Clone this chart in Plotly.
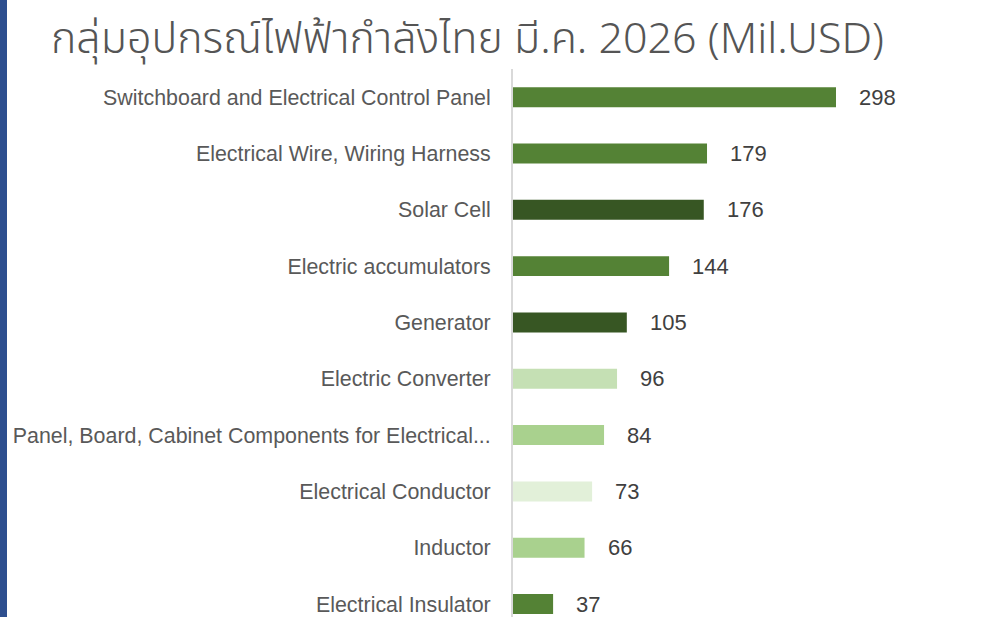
import plotly.graph_objects as go

categories = [
    "Switchboard and Electrical Control Panel",
    "Electrical Wire, Wiring Harness",
    "Solar Cell",
    "Electric accumulators",
    "Generator",
    "Electric Converter",
    "Panel, Board, Cabinet Components for Electrical...",
    "Electrical Conductor",
    "Inductor",
    "Electrical Insulator",
]
values = [298, 179, 176, 144, 105, 96, 84, 73, 66, 37]
colors = ["#548235", "#548235", "#375623", "#548235", "#375623",
          "#C5E0B4", "#A9D18E", "#E2F0D9", "#A9D18E", "#548235"]
value_labels = [str(v) for v in values]

title_text = "กลุ่มอุปกรณ์ไฟฟ้ากำลังไทย มี.ค. 2026 (Mil.USD)"

W, H = 999, 617
ML, MR, MT, MB = 513, 59, 69, 0
plot_w = W - ML - MR

label_font = "Liberation Sans, Arial, sans-serif"

fig = go.Figure()
fig.add_trace(go.Bar(
    x=values,
    y=categories,
    orientation="h",
    marker=dict(color=colors, line=dict(width=0)),
    hoverinfo="skip",
))

for cat, v, t in zip(categories, values, value_labels):
    fig.add_annotation(
        x=v, y=cat, xref="x", yref="y", text=t, showarrow=False,
        xanchor="left", yanchor="middle", xshift=21,
        font=dict(family=label_font, size=22, color="#404040"),
    )

# left blue strip (decoration)
fig.add_shape(type="rect", xref="paper", yref="paper",
              x0=(0 - ML) / plot_w, x1=(7 - ML) / plot_w,
              y0=-0.1, y1=1.2,
              fillcolor="#2E4F8F", line=dict(width=0), layer="above")

fig.update_layout(
    width=W, height=H,
    margin=dict(l=ML, r=MR, t=MT, b=MB, pad=0, autoexpand=False),
    paper_bgcolor="white", plot_bgcolor="white",
    bargap=0.645,
    showlegend=False,
    title=dict(
        text=title_text,
        x=51 / W, xref="container", xanchor="left",
        y=1 - 38 / H, yref="container", yanchor="middle",
        font=dict(family="Noto Sans Thai, Noto Sans, sans-serif", size=43,
                  color="#555555", weight=350),
    ),
    xaxis=dict(range=[0, plot_w / (323 / 298)], visible=False, fixedrange=True, automargin=False),
    yaxis=dict(
        categoryorder="array", categoryarray=categories,
        range=[9.23, -0.5],
        automargin=False, fixedrange=True,
        showline=True, linecolor="#D9D9D9", linewidth=2,
        showgrid=False, zeroline=False,
        ticks="outside", ticklen=16, tickcolor="rgba(0,0,0,0)",
        tickfont=dict(family=label_font, size=21.4, color="#595959"),
    ),
)

fig.write_html("out.html", config={"displayModeBar": False},
               post_script="document.body.style.margin='0';")
